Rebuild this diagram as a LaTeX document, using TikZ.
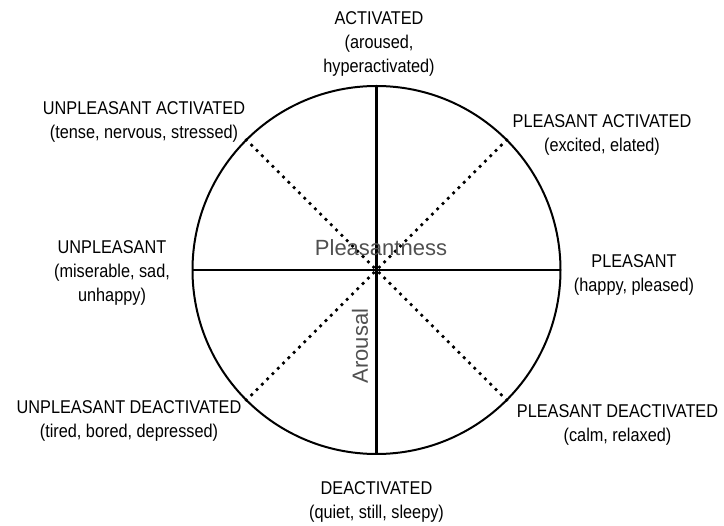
\documentclass[tikz,border=0pt]{standalone}
\usepackage{fontspec}
\setmainfont{Liberation Sans}[FakeStretch=0.88]
\newfontfamily\axisfont{Liberation Sans}
\definecolor{axisgray}{HTML}{505050}
\tikzset{
  lbl/.style={align=center, inner sep=0pt, font=\fontsize{18.5}{24}\selectfont},
  axislbl/.style={inner sep=0pt, text=axisgray, font=\axisfont\fontsize{22}{26}\selectfont}
}
\begin{document}
\begin{tikzpicture}[x=1pt, y=-1pt]
  \useasboundingbox (0,0) rectangle (724,526);
  \node[circle, draw, line width=2pt, minimum size=368pt, inner sep=0pt, outer sep=0pt] (c) at (376.5, 270) {};
  \draw[line width=2.8pt, black]
  (c.north) edge (c.south)
  (c.west) edge (c.east);
  \draw[line width=3.8pt, line cap=round, dash pattern=on 0pt off 7.5pt]
  (c.135) edge (c.center)
  (c.45) edge (c.center)
  (c.225) edge (c.center)
  (c.315) edge (c.center);
  \node[axislbl] (p) at (381, 248) {Pleasantness};
  \node[axislbl, rotate=90] (a) at (360, 346) {Arousal};
  \node[lbl] (1) at (379, 44) {ACTIVATED\\(aroused,\\hyperactivated)};
  \node[lbl] (2) at (602, 135) {PLEASANT ACTIVATED\\(excited, elated)};
  \node[lbl] (3) at (634, 275) {PLEASANT\\(happy, pleased)};
  \node[lbl] (4) at (617.5, 425) {PLEASANT DEACTIVATED\\(calm, relaxed)};
  \node[lbl] (5) at (376.5, 502) {DEACTIVATED\\(quiet, still, sleepy)};
  \node[lbl] (6) at (129, 421) {UNPLEASANT DEACTIVATED\\(tired, bored, depressed)};
  \node[lbl] (7) at (112, 273) {UNPLEASANT\\(miserable, sad,\\unhappy)};
  \node[lbl] (8) at (144, 122) {UNPLEASANT ACTIVATED\\(tense, nervous, stressed)};
\end{tikzpicture}
\end{document}
